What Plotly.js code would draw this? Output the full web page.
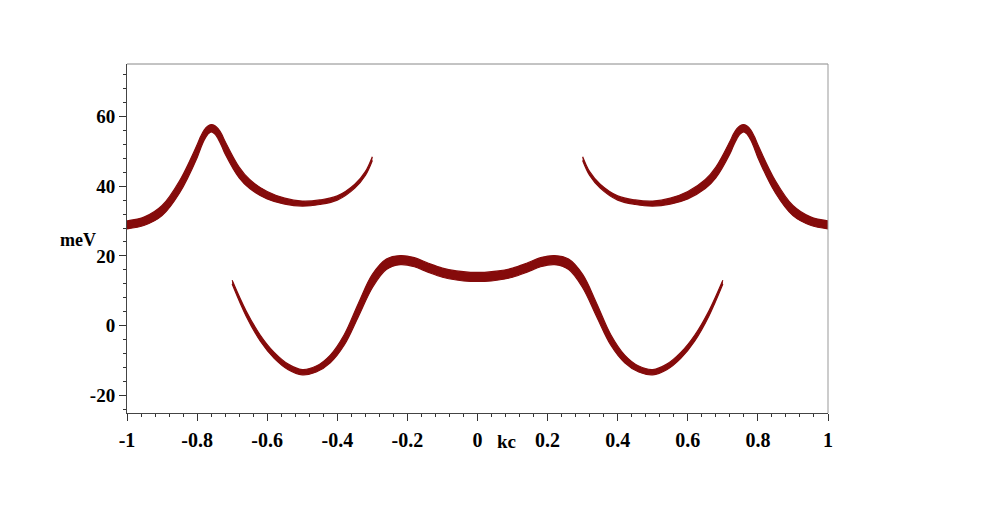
<!DOCTYPE html>
<html><head><meta charset="utf-8">
<script src="https://cdn.plot.ly/plotly-3.0.1.min.js"></script>
<style>html,body{margin:0;padding:0;background:#fff;}#chart{width:997px;height:506px;}</style>
</head><body><div id="chart"></div>
<script>
// Upper branch, left part (kc, energy in meV, band half-width in meV)
const upperLeftKc = [-1.00, -0.95, -0.90, -0.85, -0.80, -0.79, -0.78, -0.77, -0.76, -0.75, -0.74, -0.73, -0.72, -0.68, -0.65, -0.60, -0.55, -0.50, -0.45, -0.40, -0.35, -0.32, -0.30];
const upperLeftE  = [28.9, 30.0, 33.0, 39.8, 50.0, 52.5, 54.6, 56.0, 56.6, 56.2, 55.0, 53.2, 51.0, 43.9, 40.6, 37.4, 35.7, 35.0, 35.4, 36.6, 40.0, 43.6, 47.9];
const upperLeftW  = [1.15, 1.2, 1.45, 1.75, 1.85, 1.7, 1.45, 1.2, 1.05, 1.2, 1.45, 1.7, 1.8, 1.55, 1.3, 1.05, 0.85, 0.72, 0.65, 0.6, 0.55, 0.55, 0.55];

// Upper branch, right part
const upperRightKc = [0.30, 0.32, 0.35, 0.40, 0.45, 0.50, 0.55, 0.60, 0.65, 0.68, 0.72, 0.73, 0.74, 0.75, 0.76, 0.77, 0.78, 0.79, 0.80, 0.85, 0.90, 0.95, 1.00];
const upperRightE  = [47.9, 43.6, 40.0, 36.6, 35.4, 35.0, 35.7, 37.4, 40.6, 43.9, 51.0, 53.2, 55.0, 56.2, 56.6, 56.0, 54.6, 52.5, 50.0, 39.8, 33.0, 30.0, 28.9];
const upperRightW  = [0.55, 0.55, 0.55, 0.6, 0.65, 0.72, 0.85, 1.05, 1.3, 1.55, 1.8, 1.7, 1.45, 1.2, 1.05, 1.2, 1.45, 1.7, 1.85, 1.75, 1.45, 1.2, 1.15];

// Lower branch
const lowerKc = [-0.70, -0.66, -0.62, -0.58, -0.54, -0.50, -0.46, -0.42, -0.38, -0.34, -0.30, -0.26, -0.22, -0.18, -0.14, -0.10, -0.06, -0.02, 0.00,
                 0.02, 0.06, 0.10, 0.14, 0.18, 0.22, 0.26, 0.30, 0.34, 0.38, 0.42, 0.46, 0.50, 0.54, 0.58, 0.62, 0.66, 0.70];
const lowerE  = [12.5, 3.5, -3.5, -8.5, -11.8, -13.3, -12.4, -9.5, -4.0, 4.5, 12.8, 17.6, 18.8, 18.2, 16.6, 15.2, 14.4, 14.0, 14.0,
                 14.0, 14.4, 15.2, 16.6, 18.2, 18.8, 17.6, 12.8, 4.5, -4.0, -9.5, -12.4, -13.3, -11.8, -8.5, -3.5, 3.5, 12.5];
const lowerW  = [0.55, 0.75, 0.85, 0.85, 0.8, 0.75, 0.85, 1.1, 1.5, 1.9, 1.9, 1.5, 1.3, 1.3, 1.3, 1.3, 1.3, 1.3, 1.3,
                 1.3, 1.3, 1.3, 1.3, 1.3, 1.3, 1.5, 1.9, 1.9, 1.5, 1.1, 0.85, 0.75, 0.8, 0.85, 0.85, 0.75, 0.55];

const xTickVals = [-1, -0.8, -0.6, -0.4, -0.2, 0, 0.2, 0.4, 0.6, 0.8, 1];
const xTickText = ['-1', '-0.8', '-0.6', '-0.4', '-0.2', '0', '0.2', '0.4', '0.6', '0.8', '1'];
const yTickVals = [-20, 0, 20, 40, 60];
const yTickText = ['-20', '0', '20', '40', '60'];

const bandColor = '#850b0b';

function band(x, e, w) {
  const lo = e.map((v, i) => v - w[i]);
  const hi = e.map((v, i) => v + w[i]);
  const line = {color: bandColor, width: 1.2, shape: 'spline', smoothing: 1};
  return [
    {x: x, y: lo, mode: 'lines', line: line, hoverinfo: 'skip', showlegend: false},
    {x: x, y: hi, mode: 'lines', line: line, fill: 'tonexty', fillcolor: bandColor, hoverinfo: 'skip', showlegend: false}
  ];
}

const traces = [].concat(
  band(upperLeftKc, upperLeftE, upperLeftW),
  band(upperRightKc, upperRightE, upperRightW),
  band(lowerKc, lowerE, lowerW)
);

const serif = 'Liberation Serif, Times New Roman, serif';

const layout = {
  width: 997, height: 506,
  margin: {l: 127, r: 169, t: 64, b: 93},
  paper_bgcolor: '#fff', plot_bgcolor: '#fff',
  showlegend: false,
  xaxis: {
    range: [-1, 1], tickmode: 'array', tickvals: xTickVals, ticktext: xTickText,
    ticks: 'outside', ticklen: 7, tickwidth: 1, tickcolor: '#333',
    showline: true, linecolor: '#444', linewidth: 1, zeroline: false, showgrid: false,
    tickfont: {family: serif, size: 20, color: '#000', weight: 700}, ticklabelstandoff: 2,
    minor: {tickmode: 'linear', tick0: -1, dtick: 0.04, ticks: 'outside', ticklen: 3, tickcolor: '#333', showgrid: false},
    fixedrange: true
  },
  yaxis: {
    range: [-25, 75], tickmode: 'array', tickvals: yTickVals, ticktext: yTickText,
    ticks: 'outside', ticklen: 7, tickwidth: 1, tickcolor: '#333',
    showline: true, linecolor: '#444', linewidth: 1, zeroline: false, showgrid: false,
    tickfont: {family: serif, size: 19, color: '#000', weight: 700},
    minor: {tickmode: 'linear', tick0: -24, dtick: 4, ticks: 'outside', ticklen: 3, tickcolor: '#333', showgrid: false},
    fixedrange: true
  },
  shapes: [
    {type: 'line', xref: 'paper', yref: 'paper', x0: 0, x1: 1, y0: 1, y1: 1, line: {color: '#888', width: 1}},
    {type: 'line', xref: 'paper', yref: 'paper', x0: 1, x1: 1, y0: 0, y1: 1, line: {color: '#999', width: 1}}
  ],
  annotations: [
    {text: 'meV', xref: 'paper', yref: 'paper', x: -0.07, y: 0.497, xanchor: 'center', yanchor: 'middle', showarrow: false,
     font: {family: serif, size: 18, color: '#000', weight: 700}},
    {text: 'kc', xref: 'paper', yref: 'paper', x: 0.5407, y: -0.083, xanchor: 'center', yanchor: 'middle', showarrow: false,
     font: {family: serif, size: 19, color: '#000', weight: 700}}
  ]
};

Plotly.newPlot('chart', traces, layout, {displayModeBar: false, staticPlot: true});
</script>
</body></html>
